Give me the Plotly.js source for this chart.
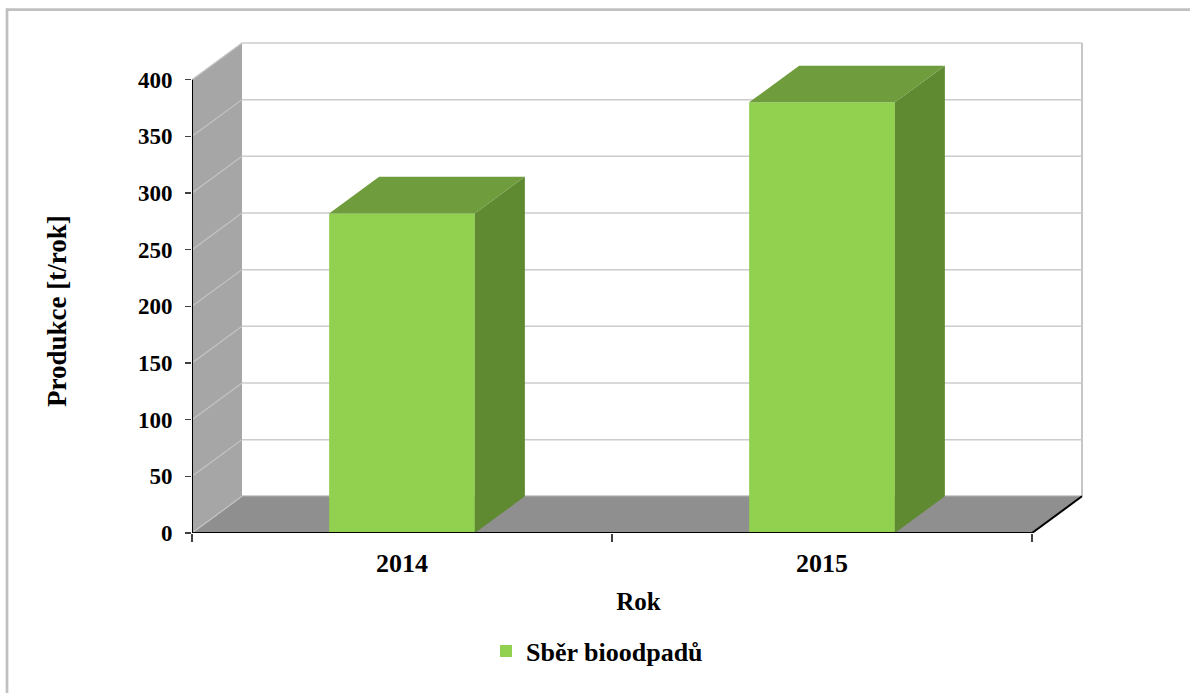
<!DOCTYPE html>
<html>
<head>
<meta charset="utf-8">
<script src="https://cdn.plot.ly/plotly-3.0.1.min.js"></script>
<style>html,body{margin:0;padding:0;background:#fff;}#chart{width:1190px;height:693px;}</style>
</head>
<body>
<div id="chart"></div>
<script>
// ---- data ----
const categories = ['2014', '2015'];
const values = [282, 380];
const yTicks = [0, 50, 100, 150, 200, 250, 300, 350, 400];
const seriesName = 'Sběr bioodpadů';
const xTitle = 'Rok';
const yTitle = 'Produkce [t/rok]';

// ---- geometry / style ----
const M = {l: 192, r: 105, t: 40, b: 160};
const FIG_W = 1190, FIG_H = 693;
const W = FIG_W - M.l - M.r, H = FIG_H - M.t - M.b;
const PX_PER_CAT = 420, PX_PER_UNIT = 1.13333;
const X0 = -0.5, X1 = categories.length - 0.5;
const DX = 50 / PX_PER_CAT, DY = 36.7 / PX_PER_UNIT;
const BAR_W = 0.347;
const YMAX = yTicks[yTicks.length - 1];
const FONT = 'Liberation Serif, Times New Roman, serif';
const xs = categories.map((c, i) => i);

const px2paperX = p => (p - M.l) / W;
const py2paperY = p => (FIG_H - M.b - p) / H;

function poly(pts) {
  return 'M' + pts.map(p => p[0] + ',' + p[1]).join('L') + 'Z';
}

const shapes = [];
// left wall
shapes.push({type: 'path', xref: 'x', yref: 'y', layer: 'below',
  path: poly([[X0, 0], [X0, YMAX], [X0 + DX, YMAX + DY], [X0 + DX, DY]]),
  fillcolor: '#a6a6a6', line: {width: 0}});
// floor
shapes.push({type: 'path', xref: 'x', yref: 'y', layer: 'below',
  path: poly([[X0, 0], [X1, 0], [X1 + DX, DY], [X0 + DX, DY]]),
  fillcolor: '#8f8f8f', line: {width: 0}});
// back wall right edge
shapes.push({type: 'line', xref: 'x', yref: 'y', layer: 'below',
  x0: X1 + DX, x1: X1 + DX, y0: DY, y1: YMAX + DY, line: {color: '#b3b3b3', width: 1.5}});
// gridlines
yTicks.forEach(v => {
  shapes.push({type: 'line', xref: 'x', yref: 'y', layer: 'below',
    x0: X0 + DX, x1: X1 + DX, y0: v + DY, y1: v + DY,
    line: {color: v === 0 ? '#a0a0a0' : '#cccccc', width: 1.5}});
  shapes.push({type: 'line', xref: 'x', yref: 'y', layer: 'below',
    x0: X0, x1: X0 + DX, y0: v, y1: v + DY,
    line: {color: '#c4c4c4', width: 1.2}});
});
// axis lines & floor edge
shapes.push({type: 'line', xref: 'x', yref: 'y', layer: 'above',
  x0: X0, x1: X0, y0: 0, y1: YMAX, line: {color: '#000', width: 2}});
shapes.push({type: 'line', xref: 'x', yref: 'y', layer: 'above',
  x0: X0, x1: X1, y0: 0, y1: 0, line: {color: '#000', width: 2}});
shapes.push({type: 'line', xref: 'x', yref: 'y', layer: 'above',
  x0: X1, x1: X1 + DX, y0: 0, y1: DY, line: {color: '#000', width: 2}});
// outer chart border
shapes.push({type: 'line', xref: 'paper', yref: 'paper', layer: 'above',
  x0: px2paperX(6), x1: px2paperX(1195), y0: py2paperY(9.7), y1: py2paperY(9.7),
  line: {color: '#c0c0c0', width: 2.7}});
shapes.push({type: 'line', xref: 'paper', yref: 'paper', layer: 'above',
  x0: px2paperX(7), x1: px2paperX(7), y0: py2paperY(8.4), y1: py2paperY(700),
  line: {color: '#c0c0c0', width: 2.7}});

const traces = [];
// front faces
traces.push({type: 'bar', x: xs, y: values, width: BAR_W, name: seriesName,
  marker: {color: '#92d050', line: {width: 0}}, hoverinfo: 'skip'});
// top and side faces
values.forEach((v, i) => {
  const a = xs[i] - BAR_W / 2, b = xs[i] + BAR_W / 2;
  const side = [[b, 0], [b, v], [b + DX, v + DY], [b + DX, DY], [b, 0]];
  const top = [[a, v], [b, v], [b + DX, v + DY], [a + DX, v + DY], [a, v]];
  traces.push({type: 'scatter', mode: 'lines', x: side.map(p => p[0]), y: side.map(p => p[1]),
    fill: 'toself', fillcolor: '#5f8a32', line: {width: 0, color: '#5f8a32'},
    showlegend: false, hoverinfo: 'skip'});
  traces.push({type: 'scatter', mode: 'lines', x: top.map(p => p[0]), y: top.map(p => p[1]),
    fill: 'toself', fillcolor: '#6f9c3c', line: {width: 0, color: '#6f9c3c'},
    showlegend: false, hoverinfo: 'skip'});
});

const layout = {
  width: FIG_W, height: FIG_H,
  margin: M,
  paper_bgcolor: '#fff', plot_bgcolor: 'rgba(0,0,0,0)',
  hovermode: false,
  showlegend: true,
  font: {family: FONT, color: '#000'},
  xaxis: {
    range: [X0, X0 + W / PX_PER_CAT], fixedrange: true,
    showgrid: false, zeroline: false, showline: false,
    tickmode: 'array', tickvals: xs, ticktext: categories, ticks: '',
    tickfont: {family: FONT, size: 26, weight: 'bold', color: '#000'},
    ticklabelstandoff: 12,
    minor: {tickmode: 'array', tickvals: [X0, 0.5, X1], ticks: 'outside', ticklen: 8,
      tickwidth: 1.5, tickcolor: '#404040', showgrid: false},
    title: {text: xTitle, standoff: 15, font: {family: FONT, size: 25, weight: 'bold', color: '#000'}}
  },
  yaxis: {
    range: [0, H / PX_PER_UNIT], fixedrange: true,
    showgrid: false, zeroline: false, showline: false,
    tickmode: 'array', tickvals: yTicks, ticks: 'outside', ticklen: 6,
    tickwidth: 1.5, tickcolor: '#404040',
    tickfont: {family: FONT, size: 23, weight: 'bold', color: '#000'},
    ticklabelstandoff: 8
  },
  legend: {orientation: 'h', x: px2paperX(486), xanchor: 'left', y: py2paperY(651), yanchor: 'middle',
    font: {family: FONT, size: 26, weight: 'bold', color: '#000'}, bgcolor: 'rgba(0,0,0,0)'},
  annotations: [{text: yTitle, xref: 'paper', yref: 'paper', x: px2paperX(57), y: py2paperY(311),
    xanchor: 'center', yanchor: 'middle', textangle: -90, showarrow: false,
    font: {family: FONT, size: 27, weight: 'bold', color: '#000'}}],
  shapes: shapes
};

Plotly.newPlot('chart', traces, layout, {displayModeBar: false, staticPlot: true});
</script>
</body>
</html>
